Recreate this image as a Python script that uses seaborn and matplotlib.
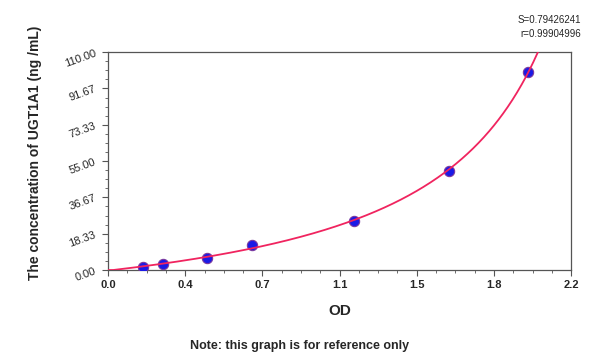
import numpy as np
import pandas as pd
import matplotlib
matplotlib.use("Agg")
import matplotlib.pyplot as plt
from matplotlib.ticker import AutoMinorLocator, FixedLocator
import seaborn as sns

# standard points
od = [0.166, 0.261, 0.470, 0.684, 1.169, 1.620, 1.995]
conc = [1.56, 3.13, 6.25, 12.5, 25.0, 50.0, 100.0]
x_ticks = [0.0, 0.4, 0.7, 1.1, 1.5, 1.8, 2.2]
y_ticks = ["0.00", "18.33", "36.67", "55.00", "73.33", "91.67", "110.00"]
s_text = "S=0.79426241"
r_text = "r=0.99904996"

df = pd.DataFrame({"OD": od, "conc": conc})

# fitted curve: conc = A*(x - x0)/(B - x), solved linearly from the points
x = df["OD"].to_numpy()
y = df["conc"].to_numpy()
M = np.column_stack([y, -x, np.ones_like(x)])
B, A, C = np.linalg.lstsq(M, y * x, rcond=None)[0]
xx = np.linspace(0, 2.2, 600)
with np.errstate(divide="ignore", invalid="ignore"):
    yy = (A * xx - C) / (B - xx)
keep = (xx < B) & (yy <= 112)
curve = pd.DataFrame({"OD": xx[keep], "conc": np.clip(yy[keep], 0, None)})

sns.set_style("white")
plt.rcParams["font.family"] = ["Liberation Sans", "DejaVu Sans"]
fig = plt.figure(figsize=(6, 3.62), dpi=100)
ax = fig.add_axes([0.18, 0.254, 0.772, 0.602])

sns.scatterplot(data=df, x="OD", y="conc", ax=ax, color="#1a1ae6", s=55,
                edgecolor="#7a3aa0", linewidth=0.8, zorder=3)
sns.lineplot(data=curve, x="OD", y="conc", ax=ax, color="#f0245f", lw=1.3,
             sort=False, zorder=4)

ax.set_xlim(0, 2.2)
ax.set_ylim(0, 110)
xt = np.linspace(0, 2.2, 7)
yt = np.linspace(0, 110, 7)
ax.xaxis.set_major_locator(FixedLocator(xt))
ax.yaxis.set_major_locator(FixedLocator(yt))
ax.set_xticklabels([f"{v:.1f}" for v in x_ticks], fontsize=8, fontweight="bold")
ax.set_yticklabels(y_ticks, fontsize=8, rotation=20)
ax.xaxis.set_minor_locator(AutoMinorLocator(4))
ax.yaxis.set_minor_locator(AutoMinorLocator(4))
ax.tick_params(which="major", direction="out", length=4, width=0.8, color="#555555",
               bottom=True, left=True)
ax.tick_params(which="minor", direction="out", length=2.5, width=0.6, color="#555555",
               bottom=True, left=True)
for sp in ax.spines.values():
    sp.set_color("#555555")
    sp.set_linewidth(0.9)

ax.set_xlabel("OD", fontsize=11, fontweight="bold", labelpad=10)
ax.set_ylabel("The concentration of UGT1A1 (ng /mL)", fontsize=10, fontweight="bold")
ax.yaxis.set_label_coords(-0.143, 0.537)

fig.text(0.968, 0.945, s_text, fontsize=7, ha="right", va="center")
fig.text(0.968, 0.905, r_text, fontsize=7, ha="right", va="center")
fig.text(0.5, 0.045, "Note: this graph is for reference only", fontsize=9,
         fontweight="bold", ha="center", va="center")

fig.savefig("out.png", dpi=100)
